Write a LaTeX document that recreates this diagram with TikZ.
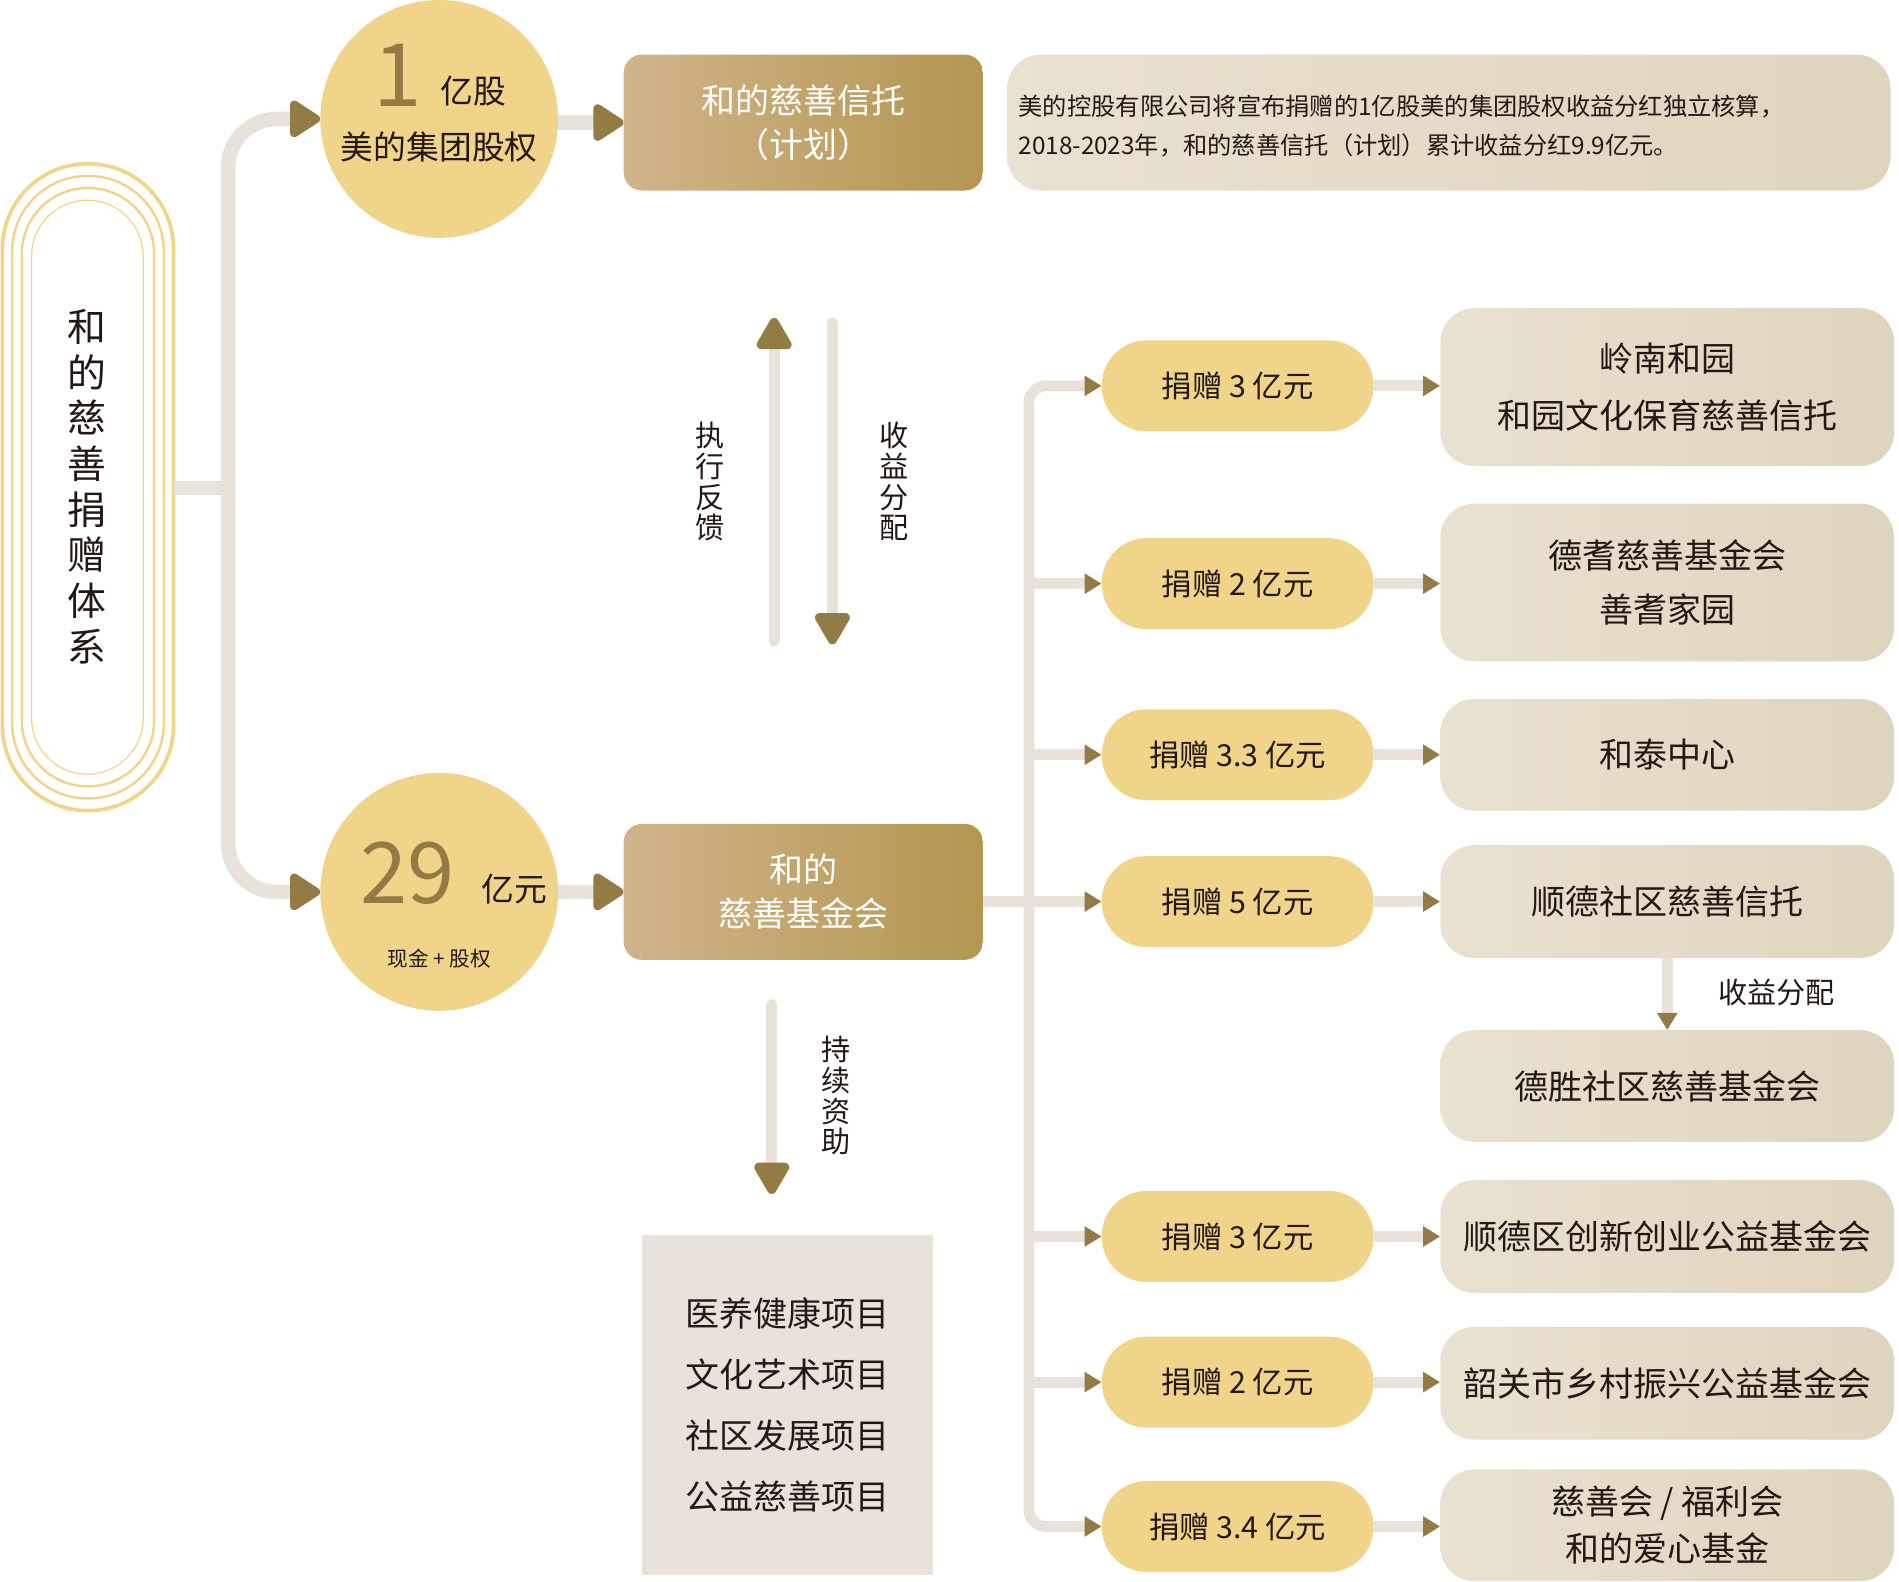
\documentclass[tikz,border=0pt]{standalone}
\usepackage{fontspec}
\setmainfont{Noto Sans CJK SC}
\usetikzlibrary{arrows.meta,calc}
\definecolor{gld}{HTML}{EFD489}
\definecolor{olv}{HTML}{937B45}
\definecolor{gry}{HTML}{E8E2DA}
\definecolor{bg1}{HTML}{E9E1D1}
\definecolor{bg2}{HTML}{DFD4BE}
\definecolor{br1}{HTML}{D0B48A}
\definecolor{br2}{HTML}{B39650}
\definecolor{ink}{HTML}{231815}
\newcommand{\fs}[1]{\fontsize{#1}{\dimexpr #1pt*13/10\relax}\selectfont}
\tikzset{
 conn/.style={draw=gry,line width=12pt},
 thin/.style={draw=gry,line width=9pt},
 bigtip/.style={-{Triangle[length=28pt,width=34pt,color=olv,round]}},
 vtip/.style={-{Triangle[length=30pt,width=32pt,color=olv,round]}},
 smtip/.style={-{Triangle[length=14pt,width=16pt,color=olv]}},
 circ/.style={circle,fill=gld,minimum size=196pt,inner sep=0pt},
 brown/.style={rounded corners=15pt,left color=br1,right color=br2,minimum width=296pt,minimum height=112pt,align=center,text=white,font=\fs{28}},
 pill/.style={rounded corners=37pt,fill=gld,minimum width=224pt,minimum height=75pt,font=\fs{25},text=ink},
 rbox/.style={rounded corners=28pt,left color=bg1,right color=bg2,minimum width=374pt,align=center,font=\fs{28},text=ink},
 txt/.style={text=ink},
}
\begin{document}
\begin{tikzpicture}[x=1pt,y=-1pt]
\useasboundingbox (0,0) rectangle (1565,1303);
% left pill
\draw[gld,line width=3pt,rounded corners=70pt] (2,135) rectangle (143,668);
\draw[gld,line width=2pt,rounded corners=62pt] (10,145) rectangle (135,658);
\draw[gld,line width=2pt,rounded corners=54pt] (18,155) rectangle (127,648);
\draw[gld,line width=1pt,rounded corners=46pt] (26,165) rectangle (118,638);
\node[txt,font=\fs{32},align=center,inner sep=0pt] (title) at (72,401) {和\\[-4pt]的\\[-4pt]慈\\[-4pt]善\\[-4pt]捐\\[-4pt]赠\\[-4pt]体\\[-4pt]系};
% circles
\node[circ] (c1) at (362,98) {};
\node[text=olv,font=\fs{72}] at (328,62) {1};
\node[txt,font=\fs{27}] at (390,75) {亿股};
\node[txt,font=\fs{27}] at (362,121) {美的集团股权};
\node[circ] (c2) at (362,735) {};
\node[text=olv,font=\fs{70}] at (336,720) {29};
\node[txt,font=\fs{27}] at (424,733) {亿元};
\node[txt,font=\fs{17}] at (362,790) {现金 + 股权};
% trunk
\coordinate (tj) at (188,402);
\draw[conn] (143,402) -- (tj);
\draw[conn,rounded corners=40pt,bigtip] (tj) |- (c1.west);
\draw[conn,rounded corners=40pt,bigtip] (tj) |- (c2.west);
% brown boxes
\node[brown] (b1) at (662,101) {和的慈善信托\\（计划）};
\node[brown] (b2) at (662,735) {和的\\慈善基金会};
\draw[conn,bigtip] (c1.east |- b1) -- (b1.west);
\draw[conn,bigtip] (c2.east) -- (b2.west);
% description
\node[rounded corners=28pt,left color=bg1,right color=bg2,minimum width=728pt,minimum height=112pt] (desc) at (1194,101) {};
\node[txt,font=\fs{20},align=left,anchor=west] at (836,104) {美的控股有限公司将宣布捐赠的1亿股美的集团股权收益分红独立核算，\\[6pt]2018-2023年，和的慈善信托（计划）累计收益分红9.9亿元。};
% vertical arrows
\coordinate (ua1) at (638,528); \coordinate (ua2) at (638,262);
\draw[thin,line cap=round,vtip] (ua1) -- (ua2);
\coordinate (da1) at (686,266); \coordinate (da2) at (686,531);
\draw[thin,line cap=round,vtip] (da1) -- (da2);
\node[txt,font=\fs{24},align=center,inner sep=0pt] at (585,397) {执\\[-6pt]行\\[-6pt]反\\[-6pt]馈};
\node[txt,font=\fs{24},align=center,inner sep=0pt] at (737,397) {收\\[-6pt]益\\[-6pt]分\\[-6pt]配};
\coordinate (fa1) at (636,828); \coordinate (fa2) at (636,984);
\draw[thin,line cap=round,vtip] (fa1) -- (fa2);
\node[txt,font=\fs{24},align=center,inner sep=0pt] at (689,903) {持\\[-6pt]续\\[-6pt]资\\[-6pt]助};
% projects
\node[fill=gry,minimum width=240pt,minimum height=280pt,txt,font=\fs{28},align=center] (proj) at (649,1158) {医养健康项目\\[14pt]文化艺术项目\\[14pt]社区发展项目\\[14pt]公益慈善项目};
% right trunk
\coordinate (rj) at (848,743);
\draw[thin] (b2.east |- rj) -- (rj);
\foreach \n/\y/\t in {p1/318/捐赠 3 亿元,p2/481/捐赠 2 亿元,p3/622/捐赠 3.3 亿元,p4/743/捐赠 5 亿元,p6/1019/捐赠 3 亿元,p7/1139/捐赠 2 亿元,p8/1258/捐赠 3.4 亿元}{
 \node[pill] (\n) at (1020,\y) {\t};
}
\draw[thin,rounded corners=14pt,smtip] (rj) |- (p1.west);
\draw[thin,rounded corners=14pt,smtip] (rj) |- (p8.west);
\foreach \n in {p2,p3,p4,p6,p7}{\draw[thin,smtip] (rj |- \n) -- (\n.west);}
% right boxes
\node[rbox,minimum height=130pt] (r1) at (1374,319) {岭南和园\\[10pt]和园文化保育慈善信托};
\node[rbox,minimum height=130pt] (r2) at (1374,480) {德耆慈善基金会\\[8pt]善耆家园};
\node[rbox,minimum height=92pt] (r3) at (1374,622) {和泰中心};
\node[rbox,minimum height=93pt] (r4) at (1374,743) {顺德社区慈善信托};
\node[rbox,minimum height=92pt] (r5) at (1374,895) {德胜社区慈善基金会};
\node[rbox,minimum height=93pt] (r6) at (1374,1019) {顺德区创新创业公益基金会};
\node[rbox,minimum height=93pt] (r7) at (1374,1140) {韶关市乡村振兴公益基金会};
\node[rbox,minimum height=92pt] (r8) at (1374,1257) {慈善会 / 福利会\\[2pt]和的爱心基金};
\foreach \a/\b in {p1/r1,p2/r2,p3/r3,p4/r4,p6/r6,p7/r7,p8/r8}{\draw[thin,smtip] (\a.east) -- (\a.east -| \b.west);}
\draw[thin,smtip] (r4.south) -- (r5.north);
\node[txt,font=\fs{24}] at (1464,818) {收益分配};
\end{tikzpicture}
\end{document}
